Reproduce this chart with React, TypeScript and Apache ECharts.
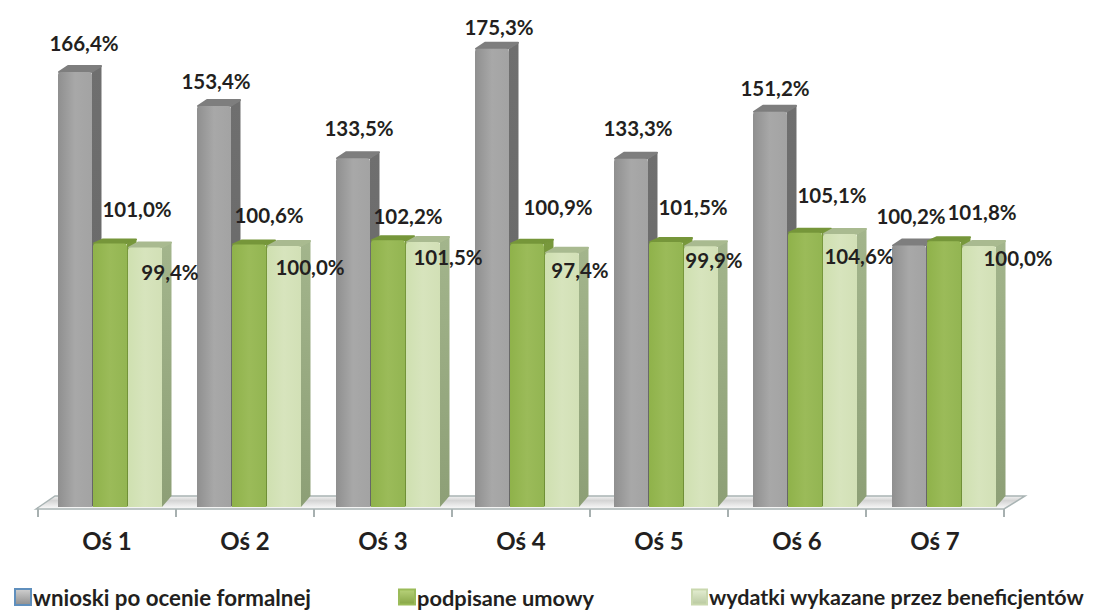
import React, { useEffect, useRef } from "react";
import * as echarts from "echarts";

const categories = ["Oś 1", "Oś 2", "Oś 3", "Oś 4", "Oś 5", "Oś 6", "Oś 7"];
const seriesNames = ["wnioski po ocenie formalnej", "podpisane umowy", "wydatki wykazane przez beneficjentów"];
const wnioski = [166.4, 153.4, 133.5, 175.3, 133.3, 151.2, 100.2];
const umowy = [101.0, 100.6, 102.2, 100.9, 101.5, 105.1, 101.8];
const wydatki = [99.4, 100.0, 101.5, 97.4, 99.9, 104.6, 100.0];

// label nudges in px, relative to the top-centre of each bar's front face
const labelNudges = [
  [[9, -29], [3, -25], [8, -30], [10, -22], [11, -31], [10, -24], [8, -29]],
  [[27, -34], [21, -29], [22, -24], [34, -37], [31, -35], [32, -38], [44, -29]],
  [[25, 24], [27, 21], [27, 15], [21, 17], [17, 14], [24, 22], [45, 12]],
];

const FONT = "Lato, 'Open Sans', sans-serif";
const TEXT = "#231f20";
const BAR_W = 34;
const BAR_OFFSETS = [-49, -14, 21];
const DRIFT = 1; // perspective: bars spread slightly wider than the ticks
const DX = 10;
const DY_TOP = [7, 5, 6];
const DY_BASE = 11;

const palettes = [
  { front: ["#8f8f8f", "#a8a8a8", "#a3a3a3"], side: ["#6f6f6f", "#666666"], top: "#7e7e7e" },
  { front: ["#8fb24a", "#9bbb59", "#93b552"], side: ["#78983c", "#6f8f36"], top: "#76963a" },
  { front: ["#cfe0b0", "#d7e4bd", "#d2e0b6"], side: ["#a3b58c", "#8d9f76"], top: "#a9ba90" },
];

function pct(v: number) {
  return v.toFixed(1).replace(".", ",") + "%";
}

function barSeries(si: number, data: number[]) {
  const pal = palettes[si];
  return {
    type: "custom",
    name: seriesNames[si],
    z: 3 + si,
    itemStyle: { color: pal.front[1] },
    encode: { x: 0, y: 1 },
    data: data.map((v, i) => [i, v]),
    renderItem: (_p: any, api: any) => {
      const i = api.value(0);
      const top = api.coord([i, api.value(1)]);
      const base = api.coord([i, 0]);
      const x0 = top[0] + BAR_OFFSETS[si] + i * DRIFT;
      const x1 = x0 + BAR_W;
      const yt = top[1];
      const yb = base[1] - 1;
      const dy = DY_TOP[si];
      return {
        type: "group",
        children: [
          {
            type: "polygon",
            shape: { points: [[x1, yt], [x1 + DX - 0.5, yt - dy + 0.5], [x1 + DX - 0.5, yb - DY_BASE], [x1, yb]] },
            style: {
              fill: new echarts.graphic.LinearGradient(0, 0, 0, 1, [
                { offset: 0, color: pal.side[0] },
                { offset: 1, color: pal.side[1] },
              ]),
            },
          },
          {
            type: "polygon",
            shape: { points: [[x0 + 1, yt], [x0 + DX, yt - dy + 1], [x1 + DX - 1, yt - dy + 1], [x1 - 1, yt]] },
            style: { fill: pal.top, stroke: pal.top, lineWidth: 2, lineJoin: "round" },
          },
          {
            type: "rect",
            shape: { x: x0, y: yt, width: BAR_W, height: yb - yt, r: [3, 3, 0, 0] },
            style: {
              fill: new echarts.graphic.LinearGradient(0, 0, 1, 0, [
                { offset: 0, color: pal.front[0] },
                { offset: 0.5, color: pal.front[1] },
                { offset: 1, color: pal.front[2] },
              ]),
            },
          },
        ],
      };
    },
  };
}

function labelSeries(si: number, data: number[]) {
  return {
    type: "custom",
    z: 20,
    silent: true,
    legendHoverLink: false,
    encode: { x: 0, y: 1 },
    data: data.map((v, i) => [i, v]),
    renderItem: (_p: any, api: any) => {
      const i = api.value(0);
      const p = api.coord([i, api.value(1)]);
      const [nx, ny] = labelNudges[si][i];
      return {
        type: "text",
        x: p[0] + BAR_OFFSETS[si] + BAR_W / 2 + nx,
        y: p[1] + ny,
        style: {
          text: pct(api.value(1)),
          font: `bold 20.5px ${FONT}`,
          fill: TEXT,
          align: "center",
          verticalAlign: "middle",
        },
      };
    },
  };
}

function floorSeries() {
  return {
    type: "custom",
    z: 1,
    silent: true,
    encode: { x: 0, y: 1 },
    data: [[0, 0]],
    renderItem: (_p: any, api: any) => {
      const band = api.size([1, 0])[0];
      const a = api.coord([0, 0]);
      const b = api.coord([6, 0]);
      const l = a[0] - band / 2;
      const r = b[0] + band / 2;
      const y = a[1] + 1;
      return {
        type: "group",
        children: [
          {
            type: "polygon",
            shape: { points: [[l - 2, y], [l + 17, y - 13], [r + 21, y - 13], [r, y]] },
            style: {
              fill: new echarts.graphic.LinearGradient(0, 0, 0, 1, [
                { offset: 0, color: "#f2f2f2" },
                { offset: 0.35, color: "#d4d4d4" },
                { offset: 1, color: "#fbfbfb" },
              ]),
              stroke: "#a9b4b4",
              lineWidth: 1.5,
            },
          },
        ],
      };
    },
  };
}

function legendOf(si: number, left: number, top: number, w: number, h: number, size: number, border: string, c0: string, c1: string) {
  return {
    left,
    top,
    padding: 0,
    itemWidth: w,
    itemHeight: h,
    itemGap: 0,
    selectedMode: false,
    textStyle: { color: TEXT, fontFamily: FONT, fontWeight: "bold", fontSize: size, padding: [0, 0, 0, -3] },
    data: [
      {
        name: seriesNames[si],
        icon: "rect",
        itemStyle: {
          color: new echarts.graphic.LinearGradient(0, 0, 0, 1, [
            { offset: 0, color: c0 },
            { offset: 1, color: c1 },
          ]),
          borderColor: border,
          borderWidth: 2,
        },
      },
    ],
  };
}

export default function App() {
  const ref = useRef<HTMLDivElement>(null);
  useEffect(() => {
    const chart = echarts.init(ref.current!, null, { renderer: "svg" });
    chart.setOption({
      animation: false,
      backgroundColor: "#ffffff",
      grid: { left: 38, width: 966, top: 36.4, height: 471.6 },
      legend: [
        legendOf(0, 14, 586, 16, 16, 22.3, "#5f8fbd", "#d0d0d0", "#8f8f8f"),
        legendOf(1, 398, 586, 16, 15, 21.8, "#9bbb59", "#b8d27a", "#86a545"),
        legendOf(2, 691, 586, 15, 15, 21.5, "#c9d8ae", "#e4eed2", "#b9c9a0"),
      ],
      xAxis: {
        type: "category",
        data: categories,
        boundaryGap: true,
        axisLine: { show: true, lineStyle: { color: "#a9b4b4", width: 2 } },
        axisTick: { show: true, length: 9, alignWithLabel: false, lineStyle: { color: "#8a9696", width: 1.5 } },
        axisLabel: { color: TEXT, fontFamily: FONT, fontWeight: "bold", fontSize: 24, margin: 20 },
      },
      yAxis: { type: "value", min: 0, max: 180, show: false, splitLine: { show: false } },
      series: [
        floorSeries(),
        barSeries(0, wnioski),
        barSeries(1, umowy),
        barSeries(2, wydatki),
        labelSeries(0, wnioski),
        labelSeries(1, umowy),
        labelSeries(2, wydatki),
      ],
    });
    return () => chart.dispose();
  }, []);
  return <div ref={ref} style={{ position: "absolute", left: 0, top: 0, width: 1102, height: 610 }} />;
}
